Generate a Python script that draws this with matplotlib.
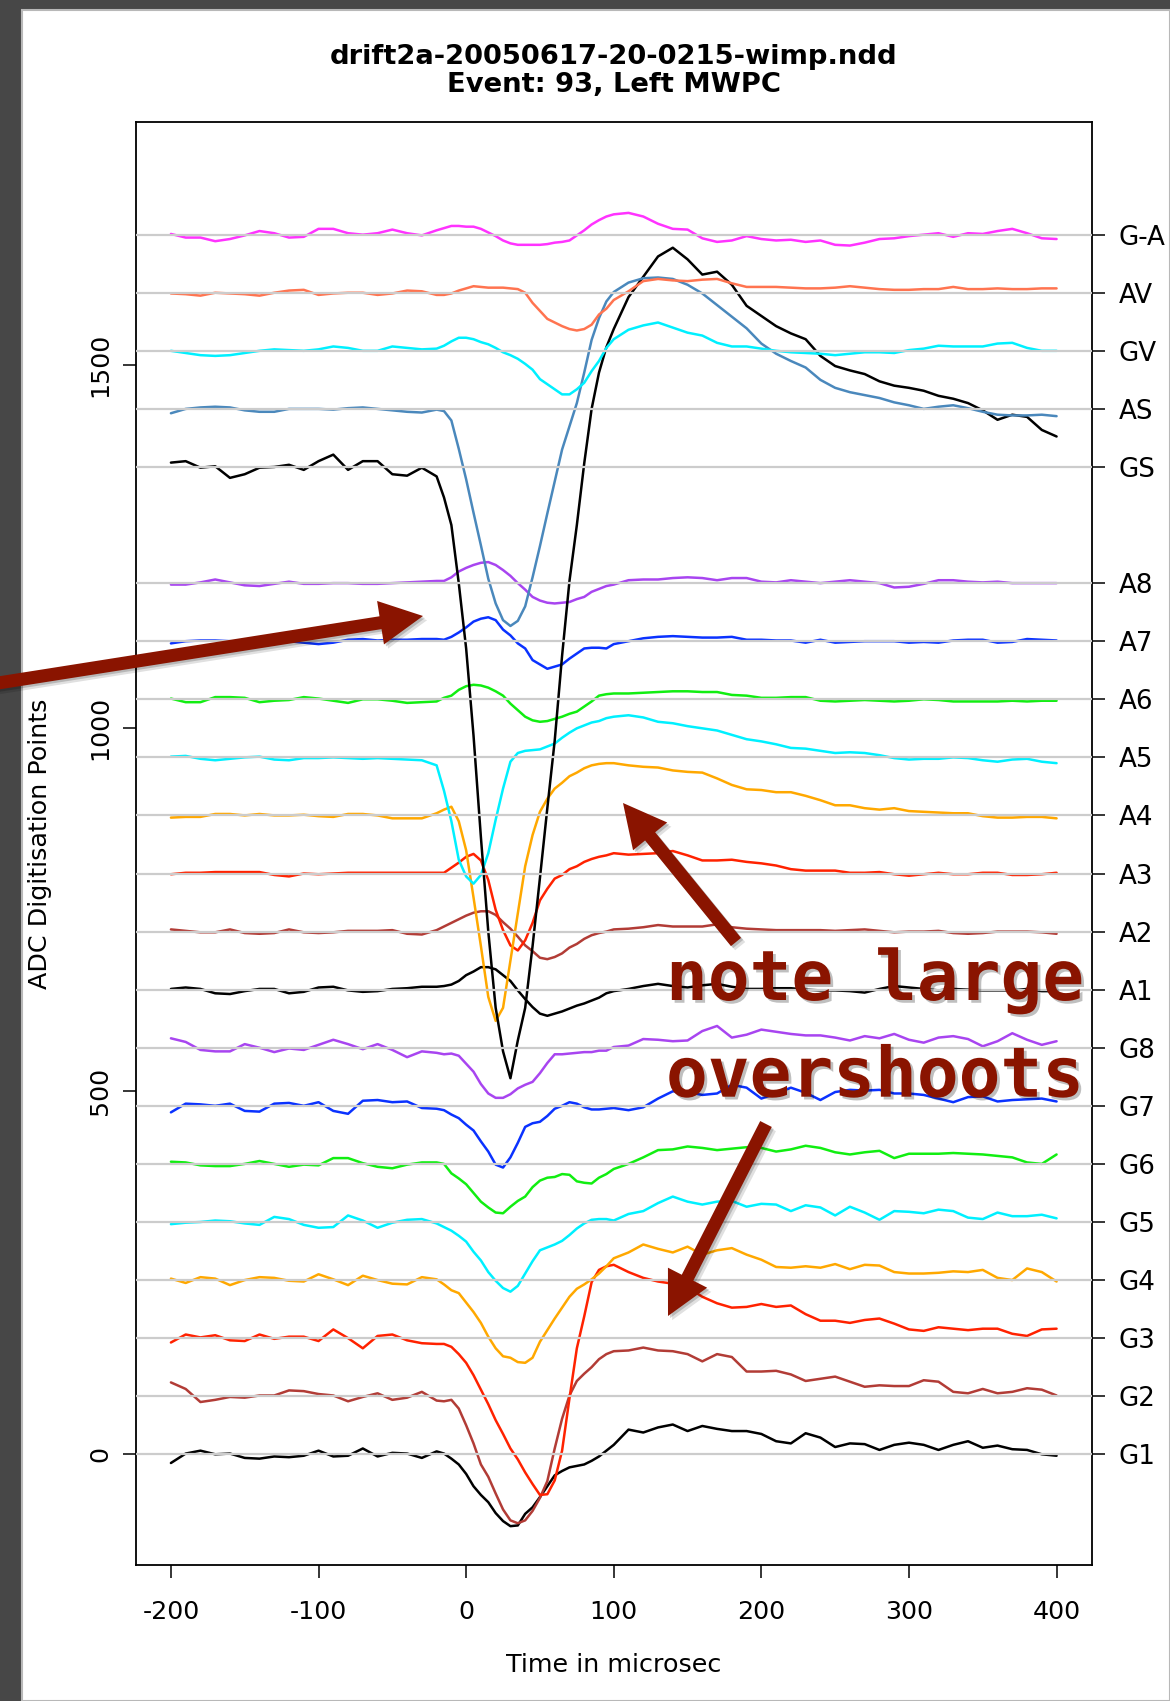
import matplotlib
matplotlib.use("Agg")
import matplotlib.pyplot as plt
import matplotlib.transforms as mtransforms
from matplotlib import patheffects
from matplotlib.patches import FancyArrow, Rectangle
import numpy as np

plt.rcParams["font.family"] = ["DejaVu Sans"]

# sample times (microseconds); finer sampling across the pulse
TIME = [-200, -190, -180, -170, -160, -150, -140, -130, -120, -110,
        -100, -90, -80, -70, -60, -50, -40, -30, -20,
        -15, -10, -5, 0, 5, 10, 15, 20, 25, 30, 35, 40, 45, 50,
        55, 60, 65, 70, 75, 80, 85, 90, 95,
        100, 110, 120, 130, 140, 150, 160, 170, 180, 190,
        200, 210, 220, 230, 240, 250, 260, 270, 280, 290,
        300, 310, 320, 330, 340, 350, 360, 370, 380, 390,
        400]

# channel names, stacking offsets (ADC) and trace colours, bottom to top
CHANNELS = ["G1", "G2", "G3", "G4", "G5", "G6", "G7", "G8",
            "A1", "A2", "A3", "A4", "A5", "A6", "A7", "A8",
            "GS", "AS", "GV", "AV", "G-A"]
OFFSETS = [0, 80, 160, 240, 320, 400, 480, 560,
           640, 720, 800, 880, 960, 1040, 1120, 1200,
           1360, 1440, 1520, 1600, 1680]
WIRE_COLOURS = ["#000000", "#b23c36", "#ff2200", "#ffa800",
                "#00f0ff", "#11ee11", "#0a32ff", "#a845f0"]
COLOURS = WIRE_COLOURS + WIRE_COLOURS + ["#000000", "#4a88bc", "#00f0ff", "#ff7450", "#ff33ff"]

# baseline-subtracted signals (ADC counts), one value per TIME sample
G1 = [-12, 1, 5, 0, 1, -5, -6, -3, -4, -2,
      5, -3, -2, 8, -3, 2, 1, -5, 4,
      1, -6, -14, -27, -44, -56, -66, -81, -92, -99, -98, -82, -73, -59,
      -44, -29, -23, -18, -16, -14, -9, -3, 5,
      13, 34, 30, 37, 41, 32, 39, 35, 32, 32,
      28, 18, 15, 29, 23, 10, 15, 14, 6, 13,
      16, 13, 6, 13, 18, 9, 12, 7, 6, 0,
      -2]
G2 = [19, 10, -8, -5, -1, -2, 1, 1, 8, 7,
      3, 1, -7, -1, 4, -5, -2, 6, -6,
      -7, -5, -17, -40, -65, -94, -111, -134, -156, -171, -175, -171, -158, -140,
      -117, -72, -31, 1, 21, 31, 40, 51, 58,
      62, 63, 67, 63, 62, 58, 48, 58, 54, 34,
      34, 35, 30, 21, 24, 27, 20, 13, 15, 14,
      14, 22, 20, 6, 4, 10, 4, 6, 11, 9,
      1]
G3 = [-6, 5, 1, 4, -3, -4, 5, -1, 2, 2,
      -4, 12, 0, -14, 3, 5, -3, -7, -8,
      -8, -12, -22, -34, -51, -71, -91, -113, -132, -152, -167, -185, -201, -216,
      -215, -196, -155, -83, -14, 30, 77, 94, 99,
      101, 91, 83, 78, 75, 70, 57, 48, 42, 43,
      47, 43, 45, 33, 24, 24, 21, 25, 27, 20,
      12, 10, 15, 13, 11, 13, 13, 6, 3, 12,
      13]
G4 = [2, -4, 4, 2, -7, 0, 4, 3, -1, -2,
      8, 1, -7, 6, 0, -5, -6, 4, 1,
      -6, -14, -18, -31, -44, -59, -78, -94, -105, -107, -113, -114, -107, -85,
      -69, -53, -38, -23, -12, -6, 1, 9, 19,
      30, 38, 49, 43, 38, 46, 35, 41, 44, 35,
      28, 18, 17, 19, 17, 22, 15, 21, 20, 11,
      9, 9, 10, 12, 11, 14, 3, 0, 16, 11,
      -2]
G5 = [-3, -1, 0, 2, 1, -2, -4, 7, 4, -4,
      -8, -7, 9, 2, -8, -1, 3, 4, -2,
      -7, -12, -19, -27, -41, -53, -69, -81, -91, -96, -88, -71, -54, -39,
      -35, -31, -26, -18, -9, -2, 3, 4, 4,
      2, 11, 15, 26, 35, 28, 24, 28, 29, 21,
      25, 24, 15, 23, 20, 9, 21, 13, 3, 15,
      14, 12, 17, 15, 6, 4, 13, 8, 8, 10,
      5]
G6 = [3, 2, -2, -3, -3, 0, 4, 0, -4, -1,
      -2, 8, 8, 1, -4, -6, -1, 2, 2,
      0, -13, -20, -28, -40, -52, -60, -67, -68, -59, -51, -45, -32, -23,
      -19, -18, -14, -15, -24, -26, -27, -19, -14,
      -7, 0, 9, 19, 20, 24, 22, 19, 21, 23,
      22, 17, 20, 25, 22, 16, 13, 16, 18, 8,
      14, 14, 14, 15, 14, 13, 11, 9, 2, 0,
      13]
G7 = [-9, 3, 2, 0, 3, -7, -8, 3, 4, 0,
      5, -7, -11, 7, 8, 5, 6, -3, -4,
      -6, -12, -17, -26, -34, -49, -63, -81, -85, -71, -51, -29, -24, -22,
      -14, -4, 0, 5, 3, -2, -5, -5, -4,
      -3, -6, -2, 10, 20, 19, 15, 17, 29, 25,
      10, 17, 25, 18, 8, 19, 22, 21, 22, 17,
      17, 15, 10, 5, 12, 13, 6, 8, 9, 10,
      6]
G8 = [13, 8, -3, -5, -5, 5, 0, -6, -1, -3,
      4, 11, 5, -2, 5, -3, -13, -5, -7,
      -9, -8, -11, -22, -33, -50, -63, -69, -69, -64, -56, -51, -47, -35,
      -21, -9, -9, -8, -7, -6, -6, -4, -4,
      1, 3, 12, 11, 9, 10, 23, 30, 14, 18,
      25, 22, 19, 17, 17, 14, 10, 16, 13, 19,
      11, 7, 14, 16, 12, 2, 9, 20, 11, 4,
      9]
A1 = [1, 3, 1, -5, -6, -2, 1, 1, -5, -3,
      3, 4, -1, -3, -2, 1, 2, 4, 4,
      5, 7, 12, 20, 25, 31, 31, 28, 20, 12, -1, -13, -24, -33,
      -36, -33, -30, -26, -22, -19, -15, -11, -5,
      -2, 1, 5, 8, 5, 3, 6, 8, 4, 1,
      1, 2, 2, 0, -1, -1, -2, -4, 1, 5,
      3, 1, -1, 1, 0, -1, -1, -1, 1, -2,
      -2]
A2 = [3, 1, -1, -1, 3, -2, -3, -2, 3, -1,
      -2, -1, 1, 1, 1, 2, -3, -4, 2,
      7, 12, 17, 22, 26, 28, 28, 23, 13, 4, -7, -19, -27, -36,
      -38, -35, -30, -22, -17, -10, -5, -2, 0,
      3, 4, 6, 9, 7, 7, 7, 10, 6, 4,
      3, 2, 2, 2, 2, 1, 2, 3, 1, -1,
      0, 0, 1, -2, -3, -2, 0, 0, 0, -1,
      -3]
A3 = [-1, 1, 1, 2, 2, 2, 2, -2, -4, 0,
      -1, 0, 1, 1, 1, 1, 1, 1, 1,
      1, 8, 15, 23, 27, 18, -9, -50, -78, -99, -106, -92, -68, -37,
      -21, -7, -2, 6, 10, 16, 20, 23, 25,
      28, 26, 27, 28, 31, 25, 18, 18, 19, 16,
      14, 11, 6, 4, 4, 4, 1, 1, 2, -1,
      -3, -1, 1, -1, -1, 1, 1, -2, -2, -1,
      1]
A4 = [-3, -2, -2, 2, 2, 0, 2, 0, 0, 1,
      -1, -2, 2, 2, 0, -4, -4, -4, 3,
      8, 12, -8, -48, -113, -180, -250, -283, -265, -200, -135, -70, -27, 5,
      23, 37, 45, 54, 59, 65, 69, 71, 72,
      72, 69, 67, 66, 62, 60, 59, 51, 42, 36,
      35, 32, 32, 27, 21, 14, 14, 10, 8, 10,
      6, 5, 4, 3, 3, -1, -3, -3, -2, -2,
      -4]
A5 = [1, 2, -2, -4, -2, 0, 1, -3, -4, -1,
      -1, 0, -1, -2, -1, -2, -3, -4, -11,
      -46, -88, -141, -164, -174, -162, -132, -86, -43, -6, 6, 9, 10, 11,
      15, 19, 27, 34, 40, 44, 48, 50, 54,
      56, 58, 55, 49, 47, 43, 40, 37, 31, 25,
      22, 18, 13, 12, 9, 6, 7, 6, 3, -1,
      -3, -2, -2, 0, -1, -4, -6, -3, -2, -6,
      -8]
A6 = [1, -4, -4, 3, 3, 2, -4, -2, -1, 3,
      1, -2, -5, 0, 0, -2, -5, -4, -3,
      2, 5, 13, 18, 20, 19, 16, 11, 5, -6, -15, -24, -29, -31,
      -30, -27, -24, -20, -17, -10, -3, 5, 7,
      8, 8, 9, 10, 11, 11, 10, 10, 6, 5,
      2, 2, 3, 3, -2, -3, -2, -1, -2, -3,
      -2, 0, -1, -3, -3, -3, -3, -2, -3, -2,
      -2]
A7 = [-3, 0, 1, 1, 0, -1, 1, 0, 0, -2,
      -4, -2, 2, 3, 1, 2, 2, 3, 3,
      2, 6, 12, 19, 27, 31, 33, 29, 16, 8, -3, -10, -26, -32,
      -38, -35, -32, -24, -17, -10, -9, -9, -10,
      -4, 0, 4, 6, 7, 6, 5, 5, 6, 2,
      2, 1, 1, -2, 2, -2, -1, 0, 0, 0,
      -2, -1, -2, 1, 2, 2, -2, -1, 3, 2,
      1]
A8 = [-2, -2, 1, 5, 1, -3, -4, -1, 2, -1,
      -1, 0, 0, -1, -1, 0, 1, 2, 3,
      3, 8, 16, 21, 25, 28, 29, 25, 18, 10, 0, -9, -19, -24,
      -27, -28, -27, -26, -22, -19, -12, -8, -4,
      -2, 4, 5, 5, 7, 8, 7, 4, 7, 7,
      2, 1, 4, 2, 0, 2, 4, 2, 0, -6,
      -5, -1, 4, 4, 2, 1, 2, 0, 0, 0,
      0]
GS = [6, 8, -1, 1, -15, -10, -1, 0, 3, -4,
      8, 17, -4, 8, 8, -10, -12, -1, -13,
      -42, -80, -160, -250, -370, -510, -640, -745, -805, -842, -790, -745, -660, -566,
      -470, -377, -260, -157, -80, 5, 80, 130, 165,
      190, 234, 262, 290, 302, 286, 265, 269, 251, 222,
      208, 194, 184, 176, 153, 139, 133, 128, 118, 112,
      109, 105, 98, 94, 88, 78, 65, 72, 69, 51,
      42]
AS = [-6, 0, 2, 3, 2, -2, -4, -4, 0, 0,
      0, -1, 1, 2, 0, -2, -4, -5, -1,
      -3, -16, -55, -97, -143, -188, -234, -268, -291, -299, -292, -272, -232, -189,
      -144, -100, -56, -24, 8, 50, 95, 125, 148,
      161, 174, 180, 181, 179, 171, 159, 143, 127, 111,
      90, 76, 66, 57, 40, 29, 23, 19, 15, 9,
      5, 0, 3, 5, 1, -4, -8, -9, -9, -8,
      -10]
GV = [0, -3, -6, -7, -6, -3, 0, 2, 1, 0,
      2, 6, 4, 0, 0, 6, 4, 2, 3,
      7, 13, 18, 18, 16, 12, 9, 4, -2, -6, -11, -18, -26, -39,
      -46, -53, -60, -60, -53, -44, -28, -14, 4,
      16, 29, 35, 39, 32, 25, 21, 11, 6, 6,
      3, 0, -2, -3, -4, -6, -4, -2, -2, -3,
      1, 3, 7, 6, 6, 6, 10, 11, 4, 0,
      0]
AV = [-1, -2, -4, 0, -1, -2, -4, 0, 3, 4,
      -3, -1, 0, 0, -3, -1, 3, 2, -3,
      -3, -1, 3, 6, 9, 8, 7, 7, 7, 6, 5, 0, -14, -25,
      -36, -41, -46, -50, -52, -50, -44, -30, -22,
      -10, 2, 16, 19, 17, 16, 18, 19, 13, 8,
      8, 8, 7, 6, 6, 7, 9, 7, 5, 4,
      4, 5, 5, 8, 5, 5, 6, 5, 5, 6,
      6]
G_A = [1, -4, -4, -9, -6, -1, 5, 2, -4, -3,
       8, 8, 2, 0, 2, 7, 2, -1, 6,
       9, 12, 12, 11, 11, 8, 3, -2, -8, -12, -14, -14, -14, -14,
       -13, -11, -10, -8, -1, 6, 14, 20, 25,
       28, 30, 25, 15, 8, 7, -5, -10, -8, -2,
       -6, -8, -7, -10, -8, -14, -15, -11, -6, -5,
       -2, 0, 2, -3, 2, 1, 5, 8, 2, -5,
       -6]

SIGNALS = [G1, G2, G3, G4, G5, G6, G7, G8,
           A1, A2, A3, A4, A5, A6, A7, A8,
           GS, AS, GV, AV, G_A]
assert all(len(s) == len(TIME) for s in SIGNALS)

X_TICKS = [-200, -100, 0, 100, 200, 300, 400]
Y_TICKS = [0, 500, 1000, 1500]

W, H = 1170, 1701
ARROW_RED = "#8a1400"
FS = 18.3

fig = plt.figure(figsize=(W / 100, H / 100), dpi=100)
fig.patch.set_facecolor("#474747")
px = mtransforms.Affine2D().scale(1 / W, 1 / H) + fig.transFigure

# white slide panel
fig.add_artist(Rectangle((22, 0), W - 22, H - 10, transform=px,
                         facecolor="white", edgecolor="#b8b8b8", lw=1.5, zorder=0))

ax = fig.add_axes([135.5 / W, (H - 1565) / H, 956.5 / W, 1442.5 / H])
ax.set_xlim(-224, 424)
ax.set_ylim(-152.5, 1834.5)

t = np.array(TIME)
for sig, off, col in zip(SIGNALS, OFFSETS, COLOURS):
    ax.plot(t, off + np.array(sig), color=col, lw=1.8, zorder=2,
            solid_joinstyle="round", solid_capstyle="round")
for off in OFFSETS:
    ax.axhline(off, color="#cccccc", lw=1.6, zorder=3)

for sp in ax.spines.values():
    sp.set_linewidth(1.3)

ax.set_xticks(X_TICKS, [str(v) for v in X_TICKS])
ax.tick_params(axis="x", length=9.4, width=1.1, labelsize=FS, pad=16)
ax.set_yticks(Y_TICKS, [str(v) for v in Y_TICKS])
ax.tick_params(axis="y", length=9.4, width=1.1, labelsize=FS, pad=7.5)
for lbl in ax.get_yticklabels():
    lbl.set_rotation(90)
    lbl.set_va("center")

ax2 = ax.twinx()
ax2.set_ylim(ax.get_ylim())
ax2.set_yticks(OFFSETS, CHANNELS)
ax2.tick_params(axis="y", length=9.4, width=1.1, labelsize=18.8, pad=10)
for sp in ax2.spines.values():
    sp.set_visible(False)

# titles and axis labels
fig.text(613.8 / W, 1 - 64 / H, "drift2a-20050617-20-0215-wimp.ndd",
         ha="center", va="baseline", fontsize=19.7, fontweight="bold")
fig.text(613.8 / W, 1 - 92 / H, "Event: 93, Left MWPC",
         ha="center", va="baseline", fontsize=19.7, fontweight="bold")
fig.text(613.8 / W, 1 - 1665 / H, "Time in microsec",
         ha="center", va="center", fontsize=FS)
fig.text(40 / W, 1 - 843.7 / H, "ADC Digitisation Points",
         ha="center", va="center", rotation=90, fontsize=FS)

# annotation arrows (pixel coordinates, y measured from the top)
shadow = [patheffects.SimplePatchShadow(offset=(1.5, -1.5), shadow_rgbFace="black", alpha=0.18),
          patheffects.SimplePatchShadow(offset=(3, -3), shadow_rgbFace="black", alpha=0.12),
          patheffects.Normal()]


def add_arrow(tail, tip):
    x0, y0 = tail[0], H - tail[1]
    x1, y1 = tip[0], H - tip[1]
    arr = FancyArrow(x0, y0, x1 - x0, y1 - y0, width=13, head_width=44,
                     head_length=43, length_includes_head=True, transform=px,
                     facecolor=ARROW_RED, edgecolor="none", zorder=10)
    arr.set_path_effects(shadow)
    fig.add_artist(arr)


add_arrow((-5, 683.5), (423, 616))
add_arrow((736, 942), (623, 803))
add_arrow((766, 1124), (668, 1316))

text_shadow = [patheffects.SimplePatchShadow(offset=(2, -2), shadow_rgbFace="black", alpha=0.25),
               patheffects.Normal()]
for txt, base in [("note large", 1000), ("overshoots", 1096.7)]:
    fig.text(666 / W, 1 - base / H, txt, ha="left", va="baseline",
             family="DejaVu Sans Mono", fontweight="bold", fontsize=50,
             color=ARROW_RED, path_effects=text_shadow, zorder=11)

fig.savefig("out.png", dpi=100, facecolor=fig.get_facecolor())
